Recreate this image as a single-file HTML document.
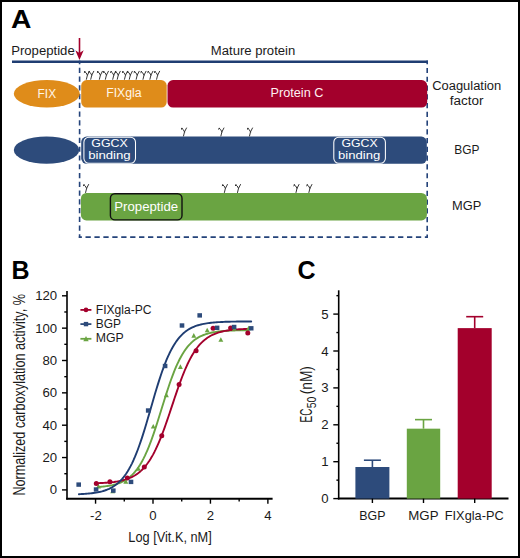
<!DOCTYPE html>
<html><head><meta charset="utf-8"><title>Figure</title>
<style>
html,body{margin:0;padding:0;background:#fff;width:520px;height:558px;overflow:hidden;}
svg{display:block;}
text{font-family:"Liberation Sans",sans-serif;}
</style></head>
<body>
<svg width="520" height="558" viewBox="0 0 520 558">
<rect x="1" y="1" width="518" height="556" fill="#fff" stroke="#000" stroke-width="2"/>
<text x="11.0" y="27.7" font-size="25" fill="#000" font-weight="bold" textLength="20.4" lengthAdjust="spacingAndGlyphs" >A</text>
<text x="11.2" y="55.2" font-size="12.3" fill="#1a1a1a" font-weight="normal" textLength="63.5" lengthAdjust="spacingAndGlyphs" >Propeptide</text>
<text x="210.8" y="55.3" font-size="12.3" fill="#1a1a1a" font-weight="normal" textLength="84.5" lengthAdjust="spacingAndGlyphs" >Mature protein</text>
<line x1="12" y1="61.65" x2="427.9" y2="61.65" stroke="#1F3D72" stroke-width="2.5"/>
<line x1="79.6" y1="60.5" x2="79.6" y2="237.9" stroke="#24437A" stroke-width="1.6" stroke-dasharray="5.2 3.57" stroke-dashoffset="1.57"/>
<line x1="427.2" y1="60.5" x2="427.2" y2="237.9" stroke="#24437A" stroke-width="1.6" stroke-dasharray="5.2 3.57" stroke-dashoffset="1.37"/>
<line x1="78.8" y1="237.1" x2="428" y2="237.1" stroke="#24437A" stroke-width="1.6" stroke-dasharray="5.3 3.63" stroke-dashoffset="2.23"/>
<line x1="79.5" y1="38" x2="79.5" y2="56" stroke="#A3002C" stroke-width="1.6"/>
<path d="M75.3,50.2 L79.45,60.1 L83.7,50.2 L79.45,53 Z" fill="#A3002C"/>
<ellipse cx="46.8" cy="93.7" rx="33" ry="13.8" fill="#DF8C1A"/>
<text x="37.6" y="97.5" font-size="12.3" fill="#FFF5E6" font-weight="normal" textLength="18.5" lengthAdjust="spacingAndGlyphs" >FIX</text>
<rect x="81.2" y="80.1" width="85.5" height="27.5" rx="5.5" fill="#DF8C1A"/>
<text x="106.2" y="97.2" font-size="12.3" fill="#FFF5E6" font-weight="normal" textLength="35.5" lengthAdjust="spacingAndGlyphs" >FIXgla</text>
<rect x="167.5" y="80.1" width="259.7" height="27.5" rx="5.5" fill="#A3002C"/>
<text x="270.6" y="97.4" font-size="12.3" fill="#FFF0F3" font-weight="normal" textLength="52.8" lengthAdjust="spacingAndGlyphs" >Protein C</text>
<path transform="translate(86.4,79.3)" d="M-2.3,-6.9 Q-1.4,-8.5 -0.3,-6.5 L1.0,-4.1 M3.0,-8.0 L1.0,-4.1 L0,0" fill="none" stroke="#2a2a2a" stroke-width="0.95" stroke-linecap="round" stroke-linejoin="round"/>
<circle cx="84.70" cy="71.80" r="0.75" fill="#2a2a2a"/>
<path transform="translate(90.75,79.3)" d="M-2.3,-6.9 Q-1.4,-8.5 -0.3,-6.5 L1.0,-4.1 M3.0,-8.0 L1.0,-4.1 L0,0" fill="none" stroke="#2a2a2a" stroke-width="0.95" stroke-linecap="round" stroke-linejoin="round"/>
<circle cx="89.05" cy="71.80" r="0.75" fill="#2a2a2a"/>
<path transform="translate(99.4,79.3)" d="M-2.3,-6.9 Q-1.4,-8.5 -0.3,-6.5 L1.0,-4.1 M3.0,-8.0 L1.0,-4.1 L0,0" fill="none" stroke="#2a2a2a" stroke-width="0.95" stroke-linecap="round" stroke-linejoin="round"/>
<circle cx="97.70" cy="71.80" r="0.75" fill="#2a2a2a"/>
<path transform="translate(105.4,79.3)" d="M-2.3,-6.9 Q-1.4,-8.5 -0.3,-6.5 L1.0,-4.1 M3.0,-8.0 L1.0,-4.1 L0,0" fill="none" stroke="#2a2a2a" stroke-width="0.95" stroke-linecap="round" stroke-linejoin="round"/>
<circle cx="103.70" cy="71.80" r="0.75" fill="#2a2a2a"/>
<path transform="translate(112.75,79.3)" d="M-2.3,-6.9 Q-1.4,-8.5 -0.3,-6.5 L1.0,-4.1 M3.0,-8.0 L1.0,-4.1 L0,0" fill="none" stroke="#2a2a2a" stroke-width="0.95" stroke-linecap="round" stroke-linejoin="round"/>
<circle cx="111.05" cy="71.80" r="0.75" fill="#2a2a2a"/>
<path transform="translate(117.25,79.3)" d="M-2.3,-6.9 Q-1.4,-8.5 -0.3,-6.5 L1.0,-4.1 M3.0,-8.0 L1.0,-4.1 L0,0" fill="none" stroke="#2a2a2a" stroke-width="0.95" stroke-linecap="round" stroke-linejoin="round"/>
<circle cx="115.55" cy="71.80" r="0.75" fill="#2a2a2a"/>
<path transform="translate(124.5,79.3)" d="M-2.3,-6.9 Q-1.4,-8.5 -0.3,-6.5 L1.0,-4.1 M3.0,-8.0 L1.0,-4.1 L0,0" fill="none" stroke="#2a2a2a" stroke-width="0.95" stroke-linecap="round" stroke-linejoin="round"/>
<circle cx="122.80" cy="71.80" r="0.75" fill="#2a2a2a"/>
<path transform="translate(129.3,79.3)" d="M-2.3,-6.9 Q-1.4,-8.5 -0.3,-6.5 L1.0,-4.1 M3.0,-8.0 L1.0,-4.1 L0,0" fill="none" stroke="#2a2a2a" stroke-width="0.95" stroke-linecap="round" stroke-linejoin="round"/>
<circle cx="127.60" cy="71.80" r="0.75" fill="#2a2a2a"/>
<path transform="translate(136.2,79.3)" d="M-2.3,-6.9 Q-1.4,-8.5 -0.3,-6.5 L1.0,-4.1 M3.0,-8.0 L1.0,-4.1 L0,0" fill="none" stroke="#2a2a2a" stroke-width="0.95" stroke-linecap="round" stroke-linejoin="round"/>
<circle cx="134.50" cy="71.80" r="0.75" fill="#2a2a2a"/>
<path transform="translate(143,79.3)" d="M-2.3,-6.9 Q-1.4,-8.5 -0.3,-6.5 L1.0,-4.1 M3.0,-8.0 L1.0,-4.1 L0,0" fill="none" stroke="#2a2a2a" stroke-width="0.95" stroke-linecap="round" stroke-linejoin="round"/>
<circle cx="141.30" cy="71.80" r="0.75" fill="#2a2a2a"/>
<path transform="translate(149.9,79.3)" d="M-2.3,-6.9 Q-1.4,-8.5 -0.3,-6.5 L1.0,-4.1 M3.0,-8.0 L1.0,-4.1 L0,0" fill="none" stroke="#2a2a2a" stroke-width="0.95" stroke-linecap="round" stroke-linejoin="round"/>
<circle cx="148.20" cy="71.80" r="0.75" fill="#2a2a2a"/>
<path transform="translate(156.6,79.3)" d="M-2.3,-6.9 Q-1.4,-8.5 -0.3,-6.5 L1.0,-4.1 M3.0,-8.0 L1.0,-4.1 L0,0" fill="none" stroke="#2a2a2a" stroke-width="0.95" stroke-linecap="round" stroke-linejoin="round"/>
<circle cx="154.90" cy="71.80" r="0.75" fill="#2a2a2a"/>
<text x="432.2" y="90.1" font-size="12.3" fill="#1a1a1a" font-weight="normal" textLength="69" lengthAdjust="spacingAndGlyphs" >Coagulation</text>
<text x="449.8" y="104.5" font-size="12.3" fill="#1a1a1a" font-weight="normal" textLength="33.8" lengthAdjust="spacingAndGlyphs" >factor</text>
<ellipse cx="46.5" cy="150.1" rx="32.7" ry="13.7" fill="#2D4B7B"/>
<rect x="81.2" y="136.6" width="345.6" height="27.2" rx="5.5" fill="#2D4B7B"/>
<rect x="83.9" y="137.15" width="51.6" height="26.15" rx="5" fill="#2D4B7B" stroke="#fff" stroke-width="1.05"/>
<rect x="333.8" y="137.15" width="51.6" height="26.15" rx="5" fill="#2D4B7B" stroke="#fff" stroke-width="1.05"/>
<text x="91.3" y="147.2" font-size="11.5" fill="#fff" font-weight="normal" textLength="36.5" lengthAdjust="spacingAndGlyphs" >GGCX</text>
<text x="88.2" y="158.7" font-size="11.5" fill="#fff" font-weight="normal" textLength="42.5" lengthAdjust="spacingAndGlyphs" >binding</text>
<text x="341.4" y="147.2" font-size="11.5" fill="#fff" font-weight="normal" textLength="36.2" lengthAdjust="spacingAndGlyphs" >GGCX</text>
<text x="338" y="158.7" font-size="11.5" fill="#fff" font-weight="normal" textLength="42.2" lengthAdjust="spacingAndGlyphs" >binding</text>
<path transform="translate(183.5,136.0)" d="M-2.3,-6.9 Q-1.4,-8.5 -0.3,-6.5 L1.0,-4.1 M3.0,-8.0 L1.0,-4.1 L0,0" fill="none" stroke="#2a2a2a" stroke-width="0.95" stroke-linecap="round" stroke-linejoin="round"/>
<circle cx="181.80" cy="128.50" r="0.75" fill="#2a2a2a"/>
<path transform="translate(220.9,136.0)" d="M-2.3,-6.9 Q-1.4,-8.5 -0.3,-6.5 L1.0,-4.1 M3.0,-8.0 L1.0,-4.1 L0,0" fill="none" stroke="#2a2a2a" stroke-width="0.95" stroke-linecap="round" stroke-linejoin="round"/>
<circle cx="219.20" cy="128.50" r="0.75" fill="#2a2a2a"/>
<path transform="translate(249.5,136.0)" d="M-2.3,-6.9 Q-1.4,-8.5 -0.3,-6.5 L1.0,-4.1 M3.0,-8.0 L1.0,-4.1 L0,0" fill="none" stroke="#2a2a2a" stroke-width="0.95" stroke-linecap="round" stroke-linejoin="round"/>
<circle cx="247.80" cy="128.50" r="0.75" fill="#2a2a2a"/>
<text x="454.2" y="153.9" font-size="12.3" fill="#1a1a1a" font-weight="normal" textLength="25.2" lengthAdjust="spacingAndGlyphs" >BGP</text>
<rect x="80.9" y="192.9" width="346" height="27.5" rx="5.5" fill="#6AA442"/>
<rect x="110.4" y="193.7" width="71.6" height="26.2" rx="4.5" fill="#6AA442" stroke="#111" stroke-width="1.4"/>
<text x="114.3" y="210.8" font-size="12.3" fill="#fff" font-weight="normal" textLength="63.8" lengthAdjust="spacingAndGlyphs" >Propeptide</text>
<path transform="translate(85.6,192.5)" d="M-2.3,-6.9 Q-1.4,-8.5 -0.3,-6.5 L1.0,-4.1 M3.0,-8.0 L1.0,-4.1 L0,0" fill="none" stroke="#2a2a2a" stroke-width="0.95" stroke-linecap="round" stroke-linejoin="round"/>
<circle cx="83.90" cy="185.00" r="0.75" fill="#2a2a2a"/>
<path transform="translate(224.4,192.5)" d="M-2.3,-6.9 Q-1.4,-8.5 -0.3,-6.5 L1.0,-4.1 M3.0,-8.0 L1.0,-4.1 L0,0" fill="none" stroke="#2a2a2a" stroke-width="0.95" stroke-linecap="round" stroke-linejoin="round"/>
<circle cx="222.70" cy="185.00" r="0.75" fill="#2a2a2a"/>
<path transform="translate(237.5,192.5)" d="M-2.3,-6.9 Q-1.4,-8.5 -0.3,-6.5 L1.0,-4.1 M3.0,-8.0 L1.0,-4.1 L0,0" fill="none" stroke="#2a2a2a" stroke-width="0.95" stroke-linecap="round" stroke-linejoin="round"/>
<circle cx="235.80" cy="185.00" r="0.75" fill="#2a2a2a"/>
<path transform="translate(296,192.5)" d="M-2.3,-6.9 Q-1.4,-8.5 -0.3,-6.5 L1.0,-4.1 M3.0,-8.0 L1.0,-4.1 L0,0" fill="none" stroke="#2a2a2a" stroke-width="0.95" stroke-linecap="round" stroke-linejoin="round"/>
<circle cx="294.30" cy="185.00" r="0.75" fill="#2a2a2a"/>
<path transform="translate(308.9,192.5)" d="M-2.3,-6.9 Q-1.4,-8.5 -0.3,-6.5 L1.0,-4.1 M3.0,-8.0 L1.0,-4.1 L0,0" fill="none" stroke="#2a2a2a" stroke-width="0.95" stroke-linecap="round" stroke-linejoin="round"/>
<circle cx="307.20" cy="185.00" r="0.75" fill="#2a2a2a"/>
<text x="452.0" y="210.4" font-size="12.3" fill="#1a1a1a" font-weight="normal" textLength="29.3" lengthAdjust="spacingAndGlyphs" >MGP</text>
<text x="11.4" y="278.7" font-size="25" fill="#000" font-weight="bold" >B</text>
<line x1="67" y1="291" x2="67" y2="499.6" stroke="#000" stroke-width="1.6"/>
<line x1="66.2" y1="498.8" x2="272.6" y2="498.8" stroke="#000" stroke-width="2"/>
<line x1="62" y1="489.90" x2="67" y2="489.90" stroke="#000" stroke-width="1.4"/>
<line x1="64.3" y1="473.72" x2="67" y2="473.72" stroke="#000" stroke-width="1.4"/>
<line x1="62" y1="457.55" x2="67" y2="457.55" stroke="#000" stroke-width="1.4"/>
<line x1="64.3" y1="441.38" x2="67" y2="441.38" stroke="#000" stroke-width="1.4"/>
<line x1="62" y1="425.20" x2="67" y2="425.20" stroke="#000" stroke-width="1.4"/>
<line x1="64.3" y1="409.02" x2="67" y2="409.02" stroke="#000" stroke-width="1.4"/>
<line x1="62" y1="392.85" x2="67" y2="392.85" stroke="#000" stroke-width="1.4"/>
<line x1="64.3" y1="376.67" x2="67" y2="376.67" stroke="#000" stroke-width="1.4"/>
<line x1="62" y1="360.50" x2="67" y2="360.50" stroke="#000" stroke-width="1.4"/>
<line x1="64.3" y1="344.32" x2="67" y2="344.32" stroke="#000" stroke-width="1.4"/>
<line x1="62" y1="328.15" x2="67" y2="328.15" stroke="#000" stroke-width="1.4"/>
<line x1="64.3" y1="311.98" x2="67" y2="311.98" stroke="#000" stroke-width="1.4"/>
<line x1="62" y1="295.80" x2="67" y2="295.80" stroke="#000" stroke-width="1.4"/>
<line x1="95.56" y1="498.8" x2="95.56" y2="503.7" stroke="#000" stroke-width="1.4"/>
<line x1="124.28" y1="498.8" x2="124.28" y2="501.5" stroke="#000" stroke-width="1.4"/>
<line x1="153.00" y1="498.8" x2="153.00" y2="503.7" stroke="#000" stroke-width="1.4"/>
<line x1="181.72" y1="498.8" x2="181.72" y2="501.5" stroke="#000" stroke-width="1.4"/>
<line x1="210.44" y1="498.8" x2="210.44" y2="503.7" stroke="#000" stroke-width="1.4"/>
<line x1="239.16" y1="498.8" x2="239.16" y2="501.5" stroke="#000" stroke-width="1.4"/>
<line x1="267.88" y1="498.8" x2="267.88" y2="503.7" stroke="#000" stroke-width="1.4"/>
<text x="57.2" y="494.29999999999995" font-size="13.2" fill="#1a1a1a" font-weight="normal" text-anchor="end">0</text>
<text x="57.2" y="461.94999999999993" font-size="13.2" fill="#1a1a1a" font-weight="normal" text-anchor="end">20</text>
<text x="57.2" y="429.59999999999997" font-size="13.2" fill="#1a1a1a" font-weight="normal" text-anchor="end">40</text>
<text x="57.2" y="397.24999999999994" font-size="13.2" fill="#1a1a1a" font-weight="normal" text-anchor="end">60</text>
<text x="57.2" y="364.9" font-size="13.2" fill="#1a1a1a" font-weight="normal" text-anchor="end">80</text>
<text x="57.2" y="332.54999999999995" font-size="13.2" fill="#1a1a1a" font-weight="normal" text-anchor="end">100</text>
<text x="57.2" y="300.19999999999993" font-size="13.2" fill="#1a1a1a" font-weight="normal" text-anchor="end">120</text>
<text x="95.86" y="520.3" font-size="13.2" fill="#1a1a1a" font-weight="normal" text-anchor="middle">-2</text>
<text x="153.0" y="520.3" font-size="13.2" fill="#1a1a1a" font-weight="normal" text-anchor="middle">0</text>
<text x="210.44" y="520.3" font-size="13.2" fill="#1a1a1a" font-weight="normal" text-anchor="middle">2</text>
<text x="267.88" y="520.3" font-size="13.2" fill="#1a1a1a" font-weight="normal" text-anchor="middle">4</text>
<text x="128.3" y="541.9" font-size="14.5" fill="#1a1a1a" font-weight="normal" textLength="83.5" lengthAdjust="spacingAndGlyphs" >Log [Vit.K, nM]</text>
<text transform="translate(25.4,495.6) rotate(-90)" x="0" y="0" font-size="15.6" fill="#1a1a1a" textLength="201.6" lengthAdjust="spacingAndGlyphs">Normalized carboxylation activity, %</text>
<polyline points="98.72,486.94 99.97,486.84 101.21,486.73 102.46,486.61 103.71,486.48 104.95,486.34 106.20,486.18 107.45,486.00 108.69,485.80 109.94,485.58 111.19,485.34 112.44,485.08 113.68,484.79 114.93,484.47 116.18,484.11 117.42,483.72 118.67,483.29 119.92,482.81 121.16,482.29 122.41,481.71 123.66,481.08 124.90,480.39 126.15,479.63 127.40,478.80 128.65,477.88 129.89,476.89 131.14,475.80 132.39,474.61 133.63,473.32 134.88,471.91 136.13,470.38 137.37,468.73 138.62,466.95 139.87,465.03 141.11,462.96 142.36,460.74 143.61,458.37 144.86,455.84 146.10,453.16 147.35,450.31 148.60,447.31 149.84,444.16 151.09,440.86 152.34,437.42 153.58,433.85 154.83,430.17 156.08,426.38 157.32,422.50 158.57,418.56 159.82,414.57 161.07,410.55 162.31,406.52 163.56,402.50 164.81,398.52 166.05,394.59 167.30,390.73 168.55,386.96 169.79,383.30 171.04,379.76 172.29,376.35 173.53,373.08 174.78,369.96 176.03,366.99 177.28,364.18 178.52,361.53 179.77,359.03 181.02,356.69 182.26,354.51 183.51,352.47 184.76,350.58 186.00,348.82 187.25,347.20 188.50,345.70 189.74,344.32 190.99,343.05 192.24,341.88 193.49,340.81 194.73,339.83 195.98,338.93 197.23,338.12 198.47,337.37 199.72,336.69 200.97,336.07 202.21,335.51 203.46,335.00 204.71,334.53 205.95,334.11 207.20,333.72 208.45,333.38 209.70,333.06 210.94,332.77 212.19,332.51 213.44,332.28 214.68,332.07 215.93,331.87 217.18,331.70 218.42,331.54 219.67,331.40 220.92,331.27 222.16,331.15 223.41,331.05 224.66,330.95 225.91,330.87 227.15,330.79 228.40,330.72 229.65,330.66 230.89,330.60 232.14,330.55 233.39,330.50 234.63,330.46 235.88,330.42 237.13,330.38 238.37,330.35 239.62,330.32 240.87,330.30 242.12,330.28 243.36,330.26 244.61,330.24 245.86,330.22 247.10,330.20 248.35,330.19" fill="none" stroke="#6AA442" stroke-width="1.9" stroke-linecap="round" stroke-linejoin="round"/>
<polyline points="96.42,483.21 97.68,483.17 98.94,483.12 100.21,483.06 101.47,483.00 102.73,482.94 103.99,482.86 105.25,482.78 106.51,482.69 107.77,482.60 109.03,482.49 110.30,482.37 111.56,482.24 112.82,482.09 114.08,481.94 115.34,481.76 116.60,481.57 117.86,481.36 119.12,481.13 120.39,480.87 121.65,480.59 122.91,480.28 124.17,479.94 125.43,479.57 126.69,479.16 127.95,478.71 129.22,478.22 130.48,477.69 131.74,477.10 133.00,476.46 134.26,475.75 135.52,474.99 136.78,474.15 138.04,473.24 139.31,472.25 140.57,471.17 141.83,470.00 143.09,468.73 144.35,467.35 145.61,465.87 146.87,464.27 148.13,462.55 149.40,460.70 150.66,458.71 151.92,456.60 153.18,454.34 154.44,451.94 155.70,449.40 156.96,446.71 158.22,443.89 159.49,440.93 160.75,437.83 162.01,434.61 163.27,431.27 164.53,427.82 165.79,424.27 167.05,420.64 168.31,416.95 169.58,413.20 170.84,409.42 172.10,405.63 173.36,401.84 174.62,398.06 175.88,394.33 177.14,390.65 178.41,387.04 179.67,383.51 180.93,380.09 182.19,376.77 183.45,373.58 184.71,370.51 185.97,367.58 187.23,364.78 188.50,362.13 189.76,359.62 191.02,357.26 192.28,355.03 193.54,352.95 194.80,350.99 196.06,349.17 197.32,347.48 198.59,345.91 199.85,344.45 201.11,343.10 202.37,341.85 203.63,340.70 204.89,339.64 206.15,338.67 207.41,337.77 208.68,336.95 209.94,336.20 211.20,335.51 212.46,334.88 213.72,334.31 214.98,333.78 216.24,333.30 217.51,332.86 218.77,332.46 220.03,332.10 221.29,331.77 222.55,331.47 223.81,331.19 225.07,330.94 226.33,330.71 227.60,330.51 228.86,330.32 230.12,330.15 231.38,329.99 232.64,329.85 233.90,329.72 235.16,329.61 236.42,329.50 237.69,329.41 238.95,329.32 240.21,329.24 241.47,329.17 242.73,329.10 243.99,329.04 245.25,328.99 246.51,328.94 247.78,328.90" fill="none" stroke="#A3002C" stroke-width="1.9" stroke-linecap="round" stroke-linejoin="round"/>
<polyline points="78.90,494.19 80.34,494.13 81.77,494.05 83.21,493.97 84.65,493.88 86.08,493.77 87.52,493.66 88.95,493.53 90.39,493.38 91.83,493.21 93.26,493.03 94.70,492.83 96.13,492.59 97.57,492.34 99.01,492.05 100.44,491.73 101.88,491.37 103.31,490.97 104.75,490.52 106.19,490.02 107.62,489.46 109.06,488.84 110.49,488.15 111.93,487.38 113.37,486.53 114.80,485.58 116.24,484.53 117.67,483.37 119.11,482.08 120.55,480.67 121.98,479.11 123.42,477.40 124.85,475.52 126.29,473.47 127.73,471.23 129.16,468.79 130.60,466.16 132.03,463.31 133.47,460.24 134.91,456.96 136.34,453.45 137.78,449.73 139.21,445.80 140.65,441.66 142.09,437.34 143.52,432.84 144.96,428.20 146.39,423.43 147.83,418.56 149.27,413.63 150.70,408.66 152.14,403.68 153.57,398.73 155.01,393.85 156.45,389.05 157.88,384.37 159.32,379.84 160.75,375.48 162.19,371.30 163.63,367.31 165.06,363.54 166.50,359.98 167.93,356.64 169.37,353.53 170.81,350.63 172.24,347.94 173.68,345.45 175.11,343.17 176.55,341.07 177.99,339.15 179.42,337.40 180.86,335.81 182.29,334.36 183.73,333.05 185.17,331.86 186.60,330.78 188.04,329.81 189.47,328.93 190.91,328.15 192.35,327.44 193.78,326.80 195.22,326.23 196.65,325.71 198.09,325.25 199.53,324.84 200.96,324.47 202.40,324.14 203.83,323.85 205.27,323.58 206.71,323.34 208.14,323.13 209.58,322.94 211.01,322.78 212.45,322.63 213.89,322.49 215.32,322.37 216.76,322.26 218.19,322.17 219.63,322.08 221.07,322.01 222.50,321.94 223.94,321.88 225.37,321.82 226.81,321.77 228.25,321.73 229.68,321.69 231.12,321.66 232.55,321.63 233.99,321.60 235.43,321.58 236.86,321.56 238.30,321.54 239.73,321.52 241.17,321.50 242.61,321.49 244.04,321.48 245.48,321.47 246.91,321.46 248.35,321.45 249.79,321.44 251.22,321.43" fill="none" stroke="#1F3D72" stroke-width="1.9" stroke-linecap="round" stroke-linejoin="round"/>
<path d="M96.05,488.53 L100.95,488.53 L98.50,483.87 Z" fill="#6AA442"/>
<path d="M110.25,493.33 L115.15,493.33 L112.70,488.67 Z" fill="#6AA442"/>
<path d="M123.35,483.63 L128.25,483.63 L125.80,478.97 Z" fill="#6AA442"/>
<path d="M135.85,470.63 L140.75,470.63 L138.30,465.97 Z" fill="#6AA442"/>
<path d="M150.80,428.58 L155.70,428.58 L153.25,423.92 Z" fill="#6AA442"/>
<path d="M163.95,397.23 L168.85,397.23 L166.40,392.57 Z" fill="#6AA442"/>
<path d="M177.95,368.93 L182.85,368.93 L180.40,364.27 Z" fill="#6AA442"/>
<path d="M191.35,337.73 L196.25,337.73 L193.80,333.07 Z" fill="#6AA442"/>
<path d="M204.75,332.33 L209.65,332.33 L207.20,327.67 Z" fill="#6AA442"/>
<path d="M218.40,341.83 L223.30,341.83 L220.85,337.17 Z" fill="#6AA442"/>
<path d="M231.85,330.83 L236.75,330.83 L234.30,326.17 Z" fill="#6AA442"/>
<path d="M246.15,330.33 L251.05,330.33 L248.60,325.67 Z" fill="#6AA442"/>
<circle cx="96.3" cy="483.5" r="2.5" fill="#A3002C"/>
<circle cx="109.9" cy="481.7" r="2.5" fill="#A3002C"/>
<circle cx="127.3" cy="478.1" r="2.5" fill="#A3002C"/>
<circle cx="144.3" cy="466.9" r="2.5" fill="#A3002C"/>
<circle cx="161.75" cy="435.75" r="2.5" fill="#A3002C"/>
<circle cx="179.1" cy="384.4" r="2.5" fill="#A3002C"/>
<circle cx="196.1" cy="350.7" r="2.5" fill="#A3002C"/>
<circle cx="213.1" cy="328.3" r="2.5" fill="#A3002C"/>
<circle cx="230.6" cy="328.0" r="2.5" fill="#A3002C"/>
<circle cx="247.8" cy="333.1" r="2.5" fill="#A3002C"/>
<rect x="76.40" y="482.40" width="4.6" height="4.4" fill="#2D4B7B"/>
<rect x="93.80" y="487.30" width="4.6" height="4.4" fill="#2D4B7B"/>
<rect x="111.00" y="488.40" width="4.6" height="4.4" fill="#2D4B7B"/>
<rect x="128.70" y="479.70" width="4.6" height="4.4" fill="#2D4B7B"/>
<rect x="145.90" y="408.30" width="4.6" height="4.4" fill="#2D4B7B"/>
<rect x="162.80" y="363.80" width="4.6" height="4.4" fill="#2D4B7B"/>
<rect x="179.70" y="323.30" width="4.6" height="4.4" fill="#2D4B7B"/>
<rect x="197.40" y="313.20" width="4.6" height="4.4" fill="#2D4B7B"/>
<rect x="214.80" y="325.60" width="4.6" height="4.4" fill="#2D4B7B"/>
<rect x="231.80" y="324.80" width="4.6" height="4.4" fill="#2D4B7B"/>
<rect x="248.90" y="326.10" width="4.6" height="4.4" fill="#2D4B7B"/>
<line x1="80.4" y1="309.9" x2="91.4" y2="309.9" stroke="#A3002C" stroke-width="1.8"/>
<text x="95.8" y="313.5" font-size="12.3" fill="#1a1a1a" font-weight="normal" textLength="55.7" lengthAdjust="spacingAndGlyphs" >FIXgla-PC</text>
<line x1="80.4" y1="324.1" x2="91.4" y2="324.1" stroke="#2D4B7B" stroke-width="1.8"/>
<text x="95.8" y="327.70000000000005" font-size="12.3" fill="#1a1a1a" font-weight="normal" textLength="25.2" lengthAdjust="spacingAndGlyphs" >BGP</text>
<line x1="80.4" y1="338.8" x2="91.4" y2="338.8" stroke="#6AA442" stroke-width="1.8"/>
<text x="95.8" y="342.40000000000003" font-size="12.3" fill="#1a1a1a" font-weight="normal" textLength="28" lengthAdjust="spacingAndGlyphs" >MGP</text>
<circle cx="86" cy="309.9" r="2.3" fill="#A3002C"/>
<rect x="83.8" y="321.9" width="4.4" height="4.4" fill="#2D4B7B"/>
<path d="M83.30,341.17 L88.70,341.17 L86.00,336.04 Z" fill="#6AA442"/>
<text x="297.5" y="279" font-size="25" fill="#000" font-weight="bold" >C</text>
<line x1="338.7" y1="290.3" x2="338.7" y2="499.4" stroke="#000" stroke-width="1.6"/>
<line x1="337.9" y1="498.6" x2="508.5" y2="498.6" stroke="#000" stroke-width="2"/>
<line x1="333.3" y1="498.60" x2="338.7" y2="498.60" stroke="#000" stroke-width="1.4"/>
<line x1="336.4" y1="480.15" x2="338.7" y2="480.15" stroke="#000" stroke-width="1.4"/>
<line x1="333.3" y1="461.70" x2="338.7" y2="461.70" stroke="#000" stroke-width="1.4"/>
<line x1="336.4" y1="443.25" x2="338.7" y2="443.25" stroke="#000" stroke-width="1.4"/>
<line x1="333.3" y1="424.80" x2="338.7" y2="424.80" stroke="#000" stroke-width="1.4"/>
<line x1="336.4" y1="406.35" x2="338.7" y2="406.35" stroke="#000" stroke-width="1.4"/>
<line x1="333.3" y1="387.90" x2="338.7" y2="387.90" stroke="#000" stroke-width="1.4"/>
<line x1="336.4" y1="369.45" x2="338.7" y2="369.45" stroke="#000" stroke-width="1.4"/>
<line x1="333.3" y1="351.00" x2="338.7" y2="351.00" stroke="#000" stroke-width="1.4"/>
<line x1="336.4" y1="332.55" x2="338.7" y2="332.55" stroke="#000" stroke-width="1.4"/>
<line x1="333.3" y1="314.10" x2="338.7" y2="314.10" stroke="#000" stroke-width="1.4"/>
<line x1="336.4" y1="295.65" x2="338.7" y2="295.65" stroke="#000" stroke-width="1.4"/>
<text x="328.6" y="503.1" font-size="13.2" fill="#1a1a1a" font-weight="normal" text-anchor="end">0</text>
<text x="328.6" y="466.20000000000005" font-size="13.2" fill="#1a1a1a" font-weight="normal" text-anchor="end">1</text>
<text x="328.6" y="429.3" font-size="13.2" fill="#1a1a1a" font-weight="normal" text-anchor="end">2</text>
<text x="328.6" y="392.40000000000003" font-size="13.2" fill="#1a1a1a" font-weight="normal" text-anchor="end">3</text>
<text x="328.6" y="355.5" font-size="13.2" fill="#1a1a1a" font-weight="normal" text-anchor="end">4</text>
<text x="328.6" y="318.6" font-size="13.2" fill="#1a1a1a" font-weight="normal" text-anchor="end">5</text>
<rect x="355.4" y="467.01" width="34.00" height="31.59" fill="#2D4B7B"/>
<line x1="372.40" y1="467.01" x2="372.40" y2="460.22" stroke="#2D4B7B" stroke-width="1.6"/>
<line x1="363.90" y1="460.22" x2="380.90" y2="460.22" stroke="#2D4B7B" stroke-width="1.6"/>
<line x1="372.40" y1="498.6" x2="372.40" y2="503" stroke="#000" stroke-width="1.4"/>
<text x="359.3" y="520" font-size="12.8" fill="#1a1a1a" font-weight="normal" textLength="26.2" lengthAdjust="spacingAndGlyphs" >BGP</text>
<rect x="406.8" y="428.67" width="33.40" height="69.93" fill="#6AA442"/>
<line x1="423.50" y1="428.67" x2="423.50" y2="419.63" stroke="#6AA442" stroke-width="1.6"/>
<line x1="415.00" y1="419.63" x2="432.00" y2="419.63" stroke="#6AA442" stroke-width="1.6"/>
<line x1="423.50" y1="498.6" x2="423.50" y2="503" stroke="#000" stroke-width="1.4"/>
<text x="408.3" y="520" font-size="12.8" fill="#1a1a1a" font-weight="normal" textLength="30.2" lengthAdjust="spacingAndGlyphs" >MGP</text>
<rect x="457.7" y="328.12" width="34.00" height="170.48" fill="#A3002C"/>
<line x1="474.70" y1="328.12" x2="474.70" y2="316.68" stroke="#A3002C" stroke-width="1.6"/>
<line x1="466.20" y1="316.68" x2="483.20" y2="316.68" stroke="#A3002C" stroke-width="1.6"/>
<line x1="474.70" y1="498.6" x2="474.70" y2="503" stroke="#000" stroke-width="1.4"/>
<text x="444.8" y="520" font-size="12.8" fill="#1a1a1a" font-weight="normal" textLength="58.8" lengthAdjust="spacingAndGlyphs" >FIXgla-PC</text>
<text transform="translate(311.8,422.4) rotate(-90)" x="0" y="0" font-size="16.2" fill="#1a1a1a" textLength="13.8" lengthAdjust="spacingAndGlyphs">EC</text>
<text transform="translate(315.9,408.3) rotate(-90)" x="0" y="0" font-size="13.7" fill="#1a1a1a" textLength="11.6" lengthAdjust="spacingAndGlyphs">50</text>
<text transform="translate(311.8,394.3) rotate(-90)" x="0" y="0" font-size="16.2" fill="#1a1a1a" textLength="28.2" lengthAdjust="spacingAndGlyphs">(nM)</text>
</svg>
</body></html>
